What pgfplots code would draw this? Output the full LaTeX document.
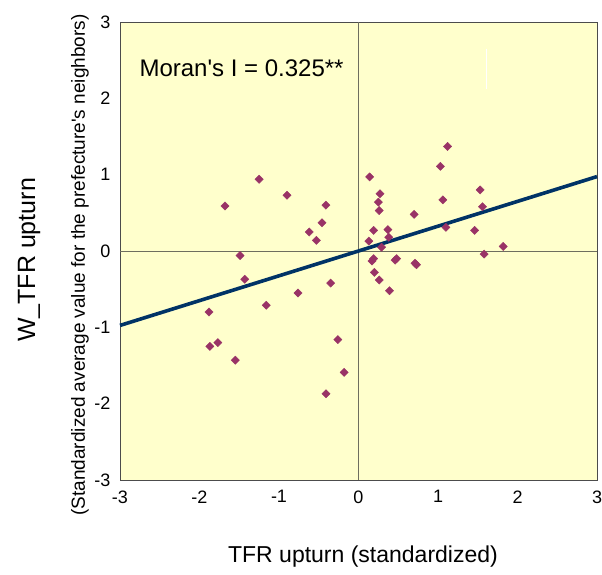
\documentclass[border=0pt]{standalone}
\usepackage{fontspec}
\setmainfont{Liberation Sans}
\usepackage{pgfplots}
\pgfplotsset{compat=1.18}

\definecolor{bgyellow}{RGB}{255,255,204}
\definecolor{ptmaroon}{RGB}{153,51,102}
\definecolor{linenavy}{RGB}{0,51,102}
\definecolor{zerogray}{RGB}{110,110,95}

\begin{document}
\begin{tikzpicture}[x=1pt,y=1pt]
\begin{axis}[
    at={(120pt,94pt)}, anchor=south west,
    scale only axis,
    width=477pt, height=458pt,
    xmin=-3, xmax=3, ymin=-3, ymax=3,
    xtick={-3,-2,...,3}, ytick={-3,-2,...,3},
    xticklabels={-3,-2,-1,0,1,2,3},
    yticklabels={-3,-2,-1,0,1,2,3},
    major tick length=0pt,
    tick label style={font=\fontsize{18}{18}\selectfont},
    xticklabel style={yshift=-7pt},
    yticklabel style={xshift=-6pt},
    axis line style={draw=black!70, line width=0.8pt},
    axis background/.style={fill=bgyellow},
    clip=false,
]
  % zero lines
  \draw[zerogray, line width=0.9pt] (axis cs:0,-3) -- (axis cs:0,3);
  \draw[zerogray, line width=0.9pt] (axis cs:-3,0) -- (axis cs:3,0);
  \draw[white, line width=1.5pt] (axis cs:1.61,2.65) -- (axis cs:1.61,2.12);

  % regression line, slope = Moran's I
  \addplot[linenavy, line width=3.6pt, no marks] coordinates {(-3,-0.975) (3,0.975)};

  \addplot[only marks, mark=square*, mark size=2.9pt,
           mark options={rotate=45, fill=ptmaroon, draw=ptmaroon}]
  coordinates {
    (-1.25,0.94) (-0.90,0.73) (-1.68,0.59) (-0.41,0.60) (-0.46,0.37)
    (-0.62,0.25) (-0.53,0.14) (-1.49,-0.06) (-1.43,-0.37) (-0.35,-0.42)
    (-0.76,-0.55) (-1.16,-0.71) (-1.88,-0.80) (-1.87,-1.25) (-1.77,-1.20)
    (-1.55,-1.43) (-0.26,-1.16) (-0.18,-1.59) (-0.41,-1.87)
    (1.12,1.37) (1.03,1.11) (0.14,0.97) (1.53,0.80) (0.27,0.75)
    (0.25,0.64) (1.06,0.67) (0.26,0.53) (1.56,0.58) (0.70,0.48)
    (0.19,0.27) (0.37,0.28) (0.38,0.18) (0.13,0.13) (1.10,0.31)
    (1.46,0.27) (0.29,0.05) (1.82,0.06) (1.58,-0.04) (0.19,-0.10)
    (0.17,-0.13) (0.48,-0.10) (0.46,-0.12) (0.73,-0.18) (0.71,-0.16)
    (0.20,-0.28) (0.26,-0.38) (0.39,-0.52)
  };
\end{axis}

\node[anchor=west, font=\fontsize{24}{24}\selectfont] at (136,506) {Moran\textquotesingle s I = 0.325**};
\node[font=\fontsize{23}{23}\selectfont] at (363,17) {TFR upturn (standardized)};
\node[rotate=90, font=\fontsize{25}{25}\selectfont] at (29,314) {W\_TFR upturn};
\node[rotate=90, font=\fontsize{19}{19}\selectfont] at (80,309) {(Standardized average value for the prefecture\textquotesingle s neighbors)};

\pgfresetboundingbox
\path (0,0) rectangle (602,574);
\end{tikzpicture}
\end{document}
